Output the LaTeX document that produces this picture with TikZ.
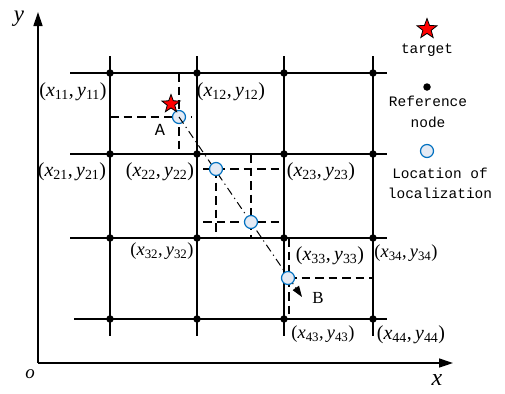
\documentclass[tikz,border=0pt]{standalone}
\usepackage{fontspec}
\setmainfont{Liberation Serif}
\setmonofont{Liberation Mono}
\usetikzlibrary{shapes.geometric,arrows.meta}
\definecolor{locblue}{RGB}{0,112,192}
\definecolor{locfill}{RGB}{228,234,244}
\newcommand{\coordlbl}[1]{(\textit{x}\textsubscript{#1},\,\textit{y}\textsubscript{#1})}
\tikzset{
  gridline/.style={line width=1.4bp},
  axisline/.style={line width=1.4bp,-{Triangle[length=14bp,width=9bp]}},
  refdot/.style={circle,fill=black,inner sep=0pt,minimum size=7.5bp},
  locpt/.style={circle,draw=locblue,fill=locfill,line width=1.2bp,inner sep=0pt,minimum size=13bp},
  guide/.style={dash pattern=on 8.5bp off 5bp,line width=1.1bp},
  traj/.style={dash pattern=on 8bp off 4bp on 1.2bp off 4bp,line width=1bp,-{Triangle[length=11bp,width=7.5bp]}},
  targetstar/.style={star,star points=5,star point ratio=2.4,draw=black,fill=red,line width=0.8bp,inner sep=0pt,minimum size=#1},
  biglbl/.style={font=\fontsize{20}{22}\selectfont,inner sep=0pt},
  smalllbl/.style={font=\fontsize{18.5}{20}\selectfont,inner sep=0pt},
  legtxt/.style={font=\ttfamily\fontsize{14.5}{16}\selectfont,inner sep=0pt}
}
\begin{document}
\begin{tikzpicture}[x=1bp,y=-1bp]
\useasboundingbox (0,0) rectangle (505,393);
% axes
\coordinate (O) at (38,363);
\coordinate (ytip) at (38,12);
\coordinate (xtip) at (453,363);
\draw[axisline] (O) -- (ytip);
\draw[axisline] (O) -- (xtip);
\node[font=\itshape\fontsize{23}{24}\selectfont,inner sep=0pt] (ylab) at (19,19) {y};
\node[font=\itshape\fontsize{24}{24}\selectfont,inner sep=0pt] (xlab) at (437,380) {x};
\node[font=\itshape\fontsize{19}{20}\selectfont,inner sep=0pt] (olab) at (30,374) {o};
% grid lines
\foreach \gx in {110,197,284,373} \draw[gridline] (\gx,56) -- (\gx,336);
\draw[gridline] (70,73) -- (387,73);
\draw[gridline] (70,154) -- (387,154);
\draw[gridline] (70,238) -- (387,238);
\draw[gridline] (74,319) -- (387,319);
% dashed guides
\draw[guide] (110,117) -- (192,117);
\draw[guide] (179,73) -- (179,154);
\draw[guide] (203,169) -- (284,169);
\draw[guide] (216,169) -- (216,238);
\draw[guide] (251,154) -- (251,238);
\draw[guide] (203,222) -- (284,222);
\draw[guide] (288,278) -- (373,278);
\draw[guide] (289,238) -- (289,319);
% localization points
\node[locpt] (pA) at (179,117) {};
\coordinate (pend) at (302,297);
\draw[traj] (pA.center) -- (pend);
\node[locpt] (p2) at (216,169) {};
\node[locpt] (p3) at (251,222) {};
\node[locpt] (p4) at (288,278) {};
% reference nodes
\foreach \gx/\i in {110/1,197/2,284/3,373/4}
  \foreach \gy/\j in {73/1,154/2,238/3,319/4}
    \node[refdot] (n\j\i) at (\gx,\gy) {};
% target
\node[targetstar=19bp] (tgt) at (171,104) {};
\node[font=\ttfamily\fontsize{17}{17}\selectfont,inner sep=0pt] (labA) at (160,130) {A};
\node[font=\fontsize{17}{17}\selectfont,inner sep=0pt] (labB) at (318,298) {B};
% coordinate labels
\node[biglbl] (l11) at (73,92) {\coordlbl{11}};
\node[biglbl] (l12) at (231,92) {\coordlbl{12}};
\node[biglbl] (l21) at (72,172) {\coordlbl{21}};
\node[biglbl] (l22) at (160,172) {\coordlbl{22}};
\node[biglbl] (l23) at (321,172) {\coordlbl{23}};
\node[smalllbl] (l32) at (162,251) {\coordlbl{32}};
\node[biglbl] (l33) at (330,256) {\coordlbl{33}};
\node[smalllbl] (l34) at (406,253) {\coordlbl{34}};
\node[smalllbl] (l43) at (323,334) {\coordlbl{43}};
\node[biglbl] (l44) at (411,335) {\coordlbl{44}};
% legend
\node[targetstar=21bp] (legstar) at (427,29) {};
\node[legtxt] (legt) at (427,50) {target};
\node[refdot] (legdot) at (427,87) {};
\node[legtxt] (legr1) at (428,101) {Reference};
\node[legtxt] (legr2) at (428,122) {node};
\node[locpt] (legloc) at (427,151) {};
\node[legtxt] (legl1) at (440,173) {Location of};
\node[legtxt] (legl2) at (440,193) {localization};
\end{tikzpicture}
\end{document}
